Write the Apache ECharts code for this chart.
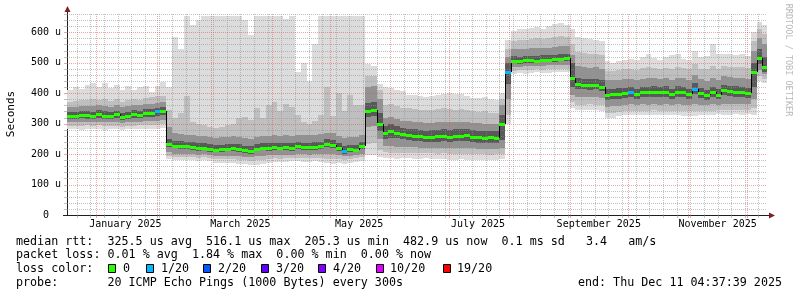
<!DOCTYPE html>
<html>
<head>
<meta charset="utf-8">
<script src="https://cdn.jsdelivr.net/npm/echarts@6/dist/echarts.min.js"></script>
<style>
html,body{margin:0;padding:0;background:#ffffff;}
#c{width:797px;height:297px;}
</style>
</head>
<body>
<div id="c"></div>
<script>
// ---------------- data (microseconds) ----------------
const sampleStart = '2024-12-17';      // first 3-day sample
const sampleDays = 3;
const axisStart = '2024-12-17T00:00:00Z';
const axisEnd = '2025-12-11T09:00:00Z';

const median = [325,324,330,327,326,333,326,324,331,322,326,333,330,335,336,340,343,
  232,
  228,226,225,224,220,221,217,215,216,218,219,217,213,210,218,221,220,222,221,223,220,225,222,223,224,226,232,230,220,210,216,215,225,
  340,346,300,
  268,276,270,265,262,261,258,255,256,258,260,257,259,260,262,257,255,254,255,253,
  300,470,
  507,505,508,508,507,509,510,511,513,514,
  450,
  430,428,426,427,420,
  394,397,398,400,404,396,403,404,405,404,405,397,405,404,396,415,400,393,404,395,410,406,405,404,401,
  470,514,485];

const smokeMin = [283,282,280,284,281,283,280,284,282,280,283,281,284,282,283,284,285,
  185,
  180,182,181,180,178,181,176,172,170,172,170,168,166,164,165,168,172,174,173,175,176,177,175,174,176,173,170,168,170,168,172,175,178,
  196,198,190,
  188,186,185,186,187,185,184,186,185,183,184,182,181,183,182,180,181,182,180,181,
  185,300,
  462,465,463,466,468,465,467,470,468,470,
  350,
  345,344,346,345,343,
  318,320,325,327,330,328,330,328,330,327,329,330,328,326,325,326,327,330,328,332,330,329,331,330,332,
  330,440,432];

const smokeLo1 = [292,293,291,294,292,294,291,293,292,290,293,293,295,294,295,296,298,
  195,
  190,191,190,189,188,189,186,184,183,184,183,182,180,178,180,182,184,186,185,186,187,188,187,186,187,186,185,184,184,182,184,186,190,
  232,235,215,
  206,205,204,205,204,203,202,203,202,201,202,200,200,201,201,199,199,200,198,199,
  200,330,
  474,476,475,477,478,477,479,480,480,481,
  370,
  362,361,363,362,360,
  335,336,339,341,343,342,343,342,344,341,343,343,342,341,340,342,342,343,342,345,345,344,345,344,345,
  350,455,448];

const smokeLo2 = [304,305,304,306,305,307,304,305,306,303,305,307,307,308,309,310,312,
  206,
  200,201,200,199,198,199,196,194,194,195,195,194,192,190,193,195,196,197,197,198,198,200,199,198,199,199,200,199,197,194,195,196,200,
  290,292,250,
  226,225,224,224,223,222,221,221,220,220,221,219,220,221,221,219,218,218,217,217,
  220,380,
  486,487,488,489,489,490,491,492,493,494,
  395,
  388,387,388,387,384,
  355,357,359,361,363,361,363,362,364,362,364,362,363,362,360,365,362,361,363,362,366,365,365,364,363,
  380,475,462];

const smokeLo3 = [314,315,318,316,315,320,315,314,318,312,315,320,319,322,323,326,328,
  222,
  219,217,216,215,211,212,208,206,207,209,210,208,204,201,209,212,211,213,212,214,211,216,213,214,215,217,222,220,211,201,207,206,216,
  322,325,275,
  250,254,252,248,246,244,242,240,240,241,243,240,242,243,244,240,238,238,238,237,
  245,430,
  498,497,500,500,499,501,502,503,505,506,
  420,
  415,414,412,413,406,
  378,381,382,384,387,380,387,388,389,388,389,381,389,388,380,396,384,378,388,380,393,390,389,388,385,
  420,495,470];

const smokeHi3 = [338,337,342,340,339,345,340,337,343,335,339,345,343,347,348,352,354,
  250,
  244,242,240,239,235,236,232,230,231,233,234,232,228,226,233,236,235,237,236,238,235,240,237,238,239,241,248,246,235,226,231,230,240,
  368,372,335,
  292,298,292,287,284,282,280,277,278,280,282,279,281,282,284,279,277,276,277,275,
  330,500,
  522,520,523,523,522,524,525,526,528,529,
  500,
  450,448,446,447,442,
  414,415,416,418,421,414,420,421,422,421,422,415,422,421,414,432,417,411,421,413,427,423,422,421,418,
  500,545,520];

const smokeHi2 = [356,355,358,357,358,360,358,356,360,354,357,362,361,364,366,368,370,
  290,
  268,265,264,262,258,260,256,254,255,257,258,256,252,250,257,260,259,262,261,263,260,264,262,262,263,265,270,268,260,252,256,255,262,
  420,422,380,
  318,322,315,310,308,306,304,302,303,305,306,304,305,306,307,303,301,300,300,298,
  360,520,
  545,544,546,547,548,548,550,552,554,555,
  525,
  488,486,484,485,480,
  442,443,444,446,448,442,448,450,450,448,450,444,451,449,444,460,446,440,450,442,455,452,451,450,447,
  540,580,560];

const smokeHi1 = [372,374,378,376,380,378,382,374,380,372,378,380,379,384,386,390,392,
  345,
  320,335,390,305,300,296,288,285,290,295,300,318,322,312,352,318,360,372,340,365,355,330,305,300,310,330,420,325,400,340,395,360,360,
  455,458,410,
  362,365,358,352,350,348,345,344,346,348,350,348,346,347,345,340,338,340,336,334,
  380,545,
  572,574,576,578,580,578,582,585,588,586,
  560,
  535,532,530,528,525,
  472,474,476,478,480,476,482,485,482,480,484,480,486,482,478,495,480,478,488,480,490,486,485,486,482,
  570,610,595];

const smokeMax = [410,420,415,428,434,420,434,418,427,412,422,412,420,425,405,425,436,
  420,
  585,545,655,625,640,655,655,655,655,655,655,655,640,590,655,655,655,655,655,645,655,470,500,440,560,655,655,655,655,655,655,655,655,
  495,490,430,
  420,418,412,408,395,393,390,388,392,394,398,400,396,398,392,385,384,388,380,378,
  400,575,
  605,612,610,615,618,612,620,628,630,625,
  610,
  585,580,578,575,572,
  505,500,505,508,512,508,520,530,515,510,520,525,528,512,510,540,520,522,560,530,528,530,525,528,522,
  600,635,625];

// lost pings (out of 20) per sample
const lossPings = [0,0,0,0,0,0,0,0,0,0,0,0,0,0,0,1,0,0,0,0,
  0,0,0,0,0,0,0,0,0,0,0,0,0,0,0,0,0,0,0,0,
  0,0,0,0,0,0,0,1,0,0,0,0,0,0,0,0,0,0,0,0,
  0,0,0,0,0,0,0,0,0,0,0,0,0,0,0,1,0,0,0,0,
  0,0,0,0,0,0,0,0,0,0,0,0,0,0,0,0,1,0,0,0,
  0,0,0,0,0,0,0,1,0,0,0,0,0,0,0,0,0,0,0,0];

const monthStarts = ['2025-01-01','2025-02-01','2025-03-01','2025-04-01','2025-05-01','2025-06-01',
  '2025-07-01','2025-08-01','2025-09-01','2025-10-01','2025-11-01','2025-12-01'];
const xLabelMonths = ['2025-01-01','2025-03-01','2025-05-01','2025-07-01','2025-09-01','2025-11-01'];
const xLabelTexts = ['January 2025','March 2025','May 2025','July 2025','September 2025','November 2025'];
const firstWeekLine = '2024-12-22';   // Sundays
const yMax = 660;
const yMajorStep = 100;
const yMinorStep = 20;

const lossNames = ['0','1/20','2/20','3/20','4/20','10/20','19/20'];
const lossColors = ['#26ff00','#00b8ff','#0059ff','#5e00ff','#7e00ff','#dd00ff','#ff0000'];

const legendRow1 = 'median rtt:  325.5 us avg  516.1 us max  205.3 us min  482.9 us now  0.1 ms sd   3.4   am/s';
const legendRow2 = 'packet loss: 0.01 % avg  1.84 % max  0.00 % min  0.00 % now';
const legendRow3 = 'loss color:';
const legendRow4 = 'probe:       20 ICMP Echo Pings (1000 Bytes) every 300s';
const endText = 'end: Thu Dec 11 04:37:39 2025';
const yAxisTitle = 'Seconds';
const watermark = 'RRDTOOL / TOBI OETIKER';

// ---------------- build ----------------
const DAY = 86400000;
const t0 = Date.parse(sampleStart);
const xMin = Date.parse(axisStart);
const xMax = Date.parse(axisEnd);
const sampleT = i => t0 + i * sampleDays * DAY;

const smokeData = median.map((m, i) => [sampleT(i), sampleT(i + 1),
  smokeMin[i], smokeLo1[i], smokeLo2[i], smokeLo3[i], smokeHi3[i], smokeHi2[i], smokeHi1[i], smokeMax[i]]);
const medianData = median.map((m, i) => [sampleT(i), sampleT(i + 1), m, i > 0 ? median[i - 1] : m, lossPings[i]]);

const monthT = monthStarts.map(d => Date.parse(d));
const gridItems = [];
for (let t = Date.parse(firstWeekLine); t < xMax; t += 7 * DAY) {
  if (monthT.indexOf(t) < 0) gridItems.push([0, t, 0]);
}
monthT.forEach(t => gridItems.push([0, t, 1]));
for (let v = yMinorStep; v <= yMax; v += yMinorStep) {
  gridItems.push([1, v, v % yMajorStep === 0 ? 1 : 0]);
}

const labelTimes = xLabelMonths.map(d => Date.parse(d) + 15 * DAY);
const labelMap = {};
labelTimes.forEach((t, k) => { labelMap[t] = xLabelTexts[k]; });

const MONO = '"DejaVu Sans Mono"';
const minorColor = 'rgba(143,143,143,0.55)';
const majorColor = 'rgba(222,79,79,0.5)';
const shade = ['#dcdcdc', '#bfbfbf', '#929292', '#595959'];

function renderSmoke(params, api) {
  const x0 = Math.round(api.coord([api.value(0), 0])[0]);
  const x1 = Math.round(api.coord([api.value(1), 0])[0]);
  const pairs = [[2, 9], [3, 8], [4, 7], [5, 6]];
  const children = pairs.map((p, k) => {
    const yb = Math.round(api.coord([0, api.value(p[0])])[1]);
    const yt = Math.round(api.coord([0, api.value(p[1])])[1]);
    return {type: 'rect', shape: {x: x0, y: yt, width: x1 - x0, height: yb - yt},
      style: {fill: shade[k]}};
  });
  return {type: 'group', children};
}

function renderGrid(params, api) {
  const cs = params.coordSys;
  const orient = api.value(0), val = api.value(1), major = api.value(2);
  const color = major ? majorColor : minorColor;
  if (orient === 0) {
    const x = Math.round(api.coord([val, 0])[0]) + 0.5;
    return {type: 'group', children: [
      {type: 'line', shape: {x1: x, y1: cs.y, x2: x, y2: cs.y + cs.height}, style: {stroke: color, lineWidth: 1, lineDash: [1, 1]}},
      {type: 'line', shape: {x1: x, y1: cs.y + cs.height, x2: x, y2: cs.y + cs.height + 3}, style: {stroke: color, lineWidth: 1}}
    ]};
  }
  const y = Math.round(api.coord([0, val])[1]) + 0.5;
  return {type: 'group', children: [
    {type: 'line', shape: {x1: cs.x, y1: y, x2: cs.x + cs.width, y2: y}, style: {stroke: color, lineWidth: 1, lineDash: [1, 1]}},
    {type: 'line', shape: {x1: cs.x - 3, y1: y, x2: cs.x, y2: y}, style: {stroke: color, lineWidth: 1}}
  ]};
}

function renderMedian(params, api) {
  const x0 = Math.round(api.coord([api.value(0), 0])[0]);
  const x1 = Math.round(api.coord([api.value(1), 0])[0]);
  const y = Math.round(api.coord([0, api.value(2)])[1]);
  const yp = Math.round(api.coord([0, api.value(3)])[1]);
  const children = [];
  if (Math.abs(y - yp) > 2) {
    children.push({type: 'line', shape: {x1: x0 + 0.5, y1: yp, x2: x0 + 0.5, y2: y}, style: {stroke: '#000000', lineWidth: 1}});
  }
  children.push({type: 'rect', shape: {x: x0, y: y - 1, width: x1 - x0, height: 3},
    style: {fill: lossColors[api.value(4)]}});
  return {type: 'group', children};
}

function txt(text, x, y, opts) {
  opts = opts || {};
  const align = opts.align || 'left';
  return {type: 'text', x: x, y: y, rotation: opts.rotation || 0, silent: true,
    style: {text: text, font: (opts.size || 11.7) + 'px ' + MONO, fill: opts.color || '#000000',
      align: align, verticalAlign: 'middle', textAlign: align, textVerticalAlign: 'middle'}};
}

const graphics = [];
graphics.push(txt(legendRow1, 16, 241.5));
graphics.push(txt(legendRow2, 16, 255.3));
graphics.push(txt(legendRow3, 16, 269.1));
graphics.push(txt(legendRow4, 16, 282.9));
graphics.push(txt(endText, 782, 282.9, {align: 'right'}));
graphics.push(txt(yAxisTitle, 11, 114, {size: 11, rotation: Math.PI / 2, align: 'center'}));
graphics.push(txt(watermark, 788, 60, {size: 8.5, rotation: -Math.PI / 2, align: 'center', color: '#b8b8b8'}));
const boxX = [108.5, 146.5, 203.5, 261.5, 318.5, 376.5, 443.5];
const boxTextX = [123, 161, 218, 276, 333, 390, 457];
lossNames.forEach((n, k) => {
  graphics.push({type: 'rect', shape: {x: boxX[k], y: 264.5, width: 7, height: 8},
    style: {fill: lossColors[k], stroke: '#000000', lineWidth: 1}, silent: true});
  graphics.push(txt(n, boxTextX[k], 269.1));
});
// axis extensions and arrows
graphics.push({type: 'line', shape: {x1: 67.5, y1: 14, x2: 67.5, y2: 10}, style: {stroke: '#1f1f1f', lineWidth: 1}, silent: true});
graphics.push({type: 'polygon', shape: {points: [[67.5, 6], [64.5, 12], [70.5, 12]]}, style: {fill: '#801f1f'}, silent: true});
graphics.push({type: 'line', shape: {x1: 63, y1: 215.5, x2: 67, y2: 215.5}, style: {stroke: '#1f1f1f', lineWidth: 1}, silent: true});
graphics.push({type: 'line', shape: {x1: 767, y1: 215.5, x2: 770, y2: 215.5}, style: {stroke: '#1f1f1f', lineWidth: 1}, silent: true});
graphics.push({type: 'polygon', shape: {points: [[775, 215.5], [769, 212.5], [769, 218.5]]}, style: {fill: '#801f1f'}, silent: true});

const option = {
  animation: false,
  backgroundColor: '#ffffff',
  grid: {left: 67, top: 14, width: 700, height: 201, containLabel: false, outerBoundsMode: 'none'},
  xAxis: {
    type: 'value', min: xMin, max: xMax,
    splitLine: {show: false}, axisTick: {show: false},
    axisLine: {show: true, onZero: false, lineStyle: {color: '#1f1f1f', width: 1}},
    axisLabel: {customValues: labelTimes, formatter: v => labelMap[v] || '',
      fontFamily: MONO, fontSize: 10, color: '#000000', margin: 4, hideOverlap: false}
  },
  yAxis: {
    type: 'value', min: 0, max: yMax, interval: yMajorStep,
    splitLine: {show: false}, axisTick: {show: false},
    axisLine: {show: true, lineStyle: {color: '#1f1f1f', width: 1}},
    axisLabel: {formatter: v => (v === 0 ? '0\u00a0\u00a0' : v + ' u'), showMaxLabel: false,
      fontFamily: MONO, fontSize: 10, color: '#000000', margin: 6}
  },
  series: [
    {type: 'custom', name: 'smoke', coordinateSystem: 'cartesian2d', renderItem: renderSmoke,
      data: smokeData, clip: true, silent: true, z: 2},
    {type: 'custom', name: 'grid', coordinateSystem: 'cartesian2d', renderItem: renderGrid,
      data: gridItems, clip: false, silent: true, z: 3},
    {type: 'custom', name: 'median', coordinateSystem: 'cartesian2d', renderItem: renderMedian,
      data: medianData, clip: true, silent: true, z: 4}
  ],
  graphic: graphics
};

const chart = echarts.init(document.getElementById('c'), null, {renderer: 'canvas', width: 797, height: 297});
chart.setOption(option);
</script>
</body>
</html>
